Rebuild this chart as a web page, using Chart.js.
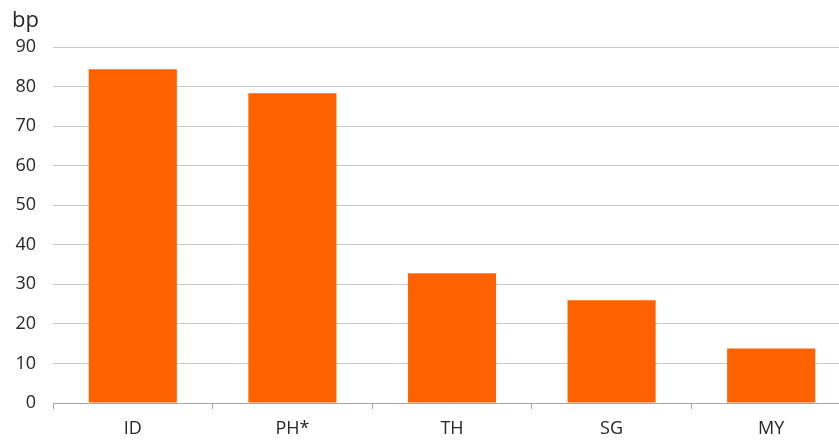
<!DOCTYPE html>
<html>
<head>
<meta charset="utf-8">
<script src="https://cdn.jsdelivr.net/npm/chart.js@4/dist/chart.umd.min.js"></script>
<style>
  html, body { margin: 0; padding: 0; overflow: hidden; background: #fff; }
  #wrap { position: relative; width: 851px; height: 442px; }
</style>
</head>
<body>
<div id="wrap"><canvas id="c"></canvas></div>
<script>
// Basis-point values by market
const categories = ['ID', 'PH*', 'TH', 'SG', 'MY'];
const values = [84.4, 78.3, 32.8, 26.0, 13.8];
const yTicks = [0, 10, 20, 30, 40, 50, 60, 70, 80, 90];
const unitLabel = 'bp';

const FONT = '"Open Sans", "Noto Sans", sans-serif';
const TEXT = '#262626';

// Unit label above the value axis
const unitPlugin = {
  id: 'unitLabel',
  afterDraw(chart) {
    const ctx = chart.ctx;
    ctx.save();
    ctx.font = '22px ' + FONT;
    ctx.fillStyle = TEXT;
    ctx.textBaseline = 'alphabetic';
    ctx.textAlign = 'left';
    ctx.fillText(unitLabel, 12, 27);
    ctx.restore();
  }
};

new Chart(document.getElementById('c'), {
  type: 'bar',
  data: {
    labels: categories,
    datasets: [{
      data: values,
      backgroundColor: '#FF6200',
      borderWidth: 0,
      barPercentage: 0.552,
      categoryPercentage: 1.0
    }]
  },
  options: {
    responsive: true,
    maintainAspectRatio: false,
    animation: false,
    layout: { padding: { top: 47, left: 0, right: 0, bottom: 0 } },
    plugins: { legend: { display: false }, tooltip: { enabled: false } },
    scales: {
      x: {
        offset: true,
        grid: {
          display: true,
          offset: true,
          drawOnChartArea: false,
          drawTicks: true,
          tickLength: 6,
          color: '#a6a6a6'
        },
        border: { display: true, color: '#a6a6a6', width: 1 },
        ticks: { color: TEXT, font: { family: FONT, size: 18 }, padding: 9 },
        afterFit(scale) { scale.height = 39; }
      },
      y: {
        min: 0,
        max: 90,
        afterBuildTicks(scale) { scale.ticks = yTicks.map(v => ({ value: v })); },
        grid: { color: '#c8c8c8', drawTicks: false, lineWidth: 1 },
        border: { display: false },
        ticks: { color: TEXT, font: { family: FONT, size: 18 }, padding: 17 },
        afterFit(scale) { scale.width = 53; }
      }
    }
  },
  plugins: [unitPlugin]
});
</script>
</body>
</html>
